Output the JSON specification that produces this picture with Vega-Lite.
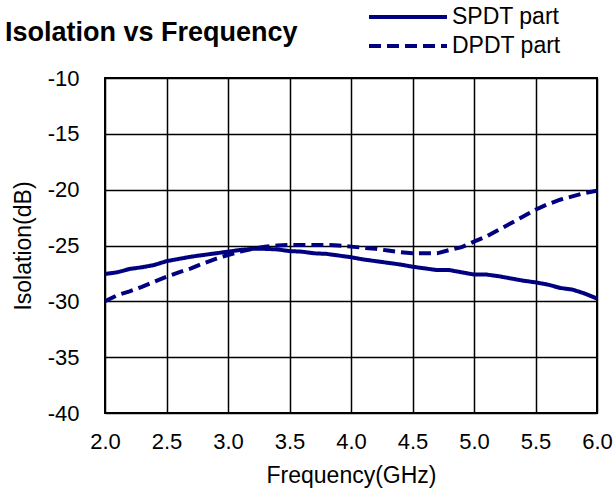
{
  "$schema": "https://vega.github.io/schema/vega-lite/v6.json",
  "autosize": {"type": "none"},
  "padding": {"left": 105, "top": 78, "right": 16, "bottom": 82},
  "width": 492,
  "height": 335,
  "background": "white",
  "title": {"text": "Isolation vs Frequency", "anchor": "start", "frame": "group", "dx": -100, "offset": -69, "baseline": "bottom", "fontSize": 27, "fontWeight": "bold", "font": "Liberation Sans", "color": "black"},
  "config": {
    "view": {"stroke": "black", "strokeWidth": 2},
    "font": "Liberation Sans",
    "axis": {"grid": true, "gridColor": "black", "gridWidth": 1.5, "gridOpacity": 1, "domain": false, "ticks": false, "labelFlush": false, "labelFont": "Liberation Sans", "labelFontSize": 22, "labelColor": "black", "titleFont": "Liberation Sans", "titleFontSize": 23, "titleFontWeight": "normal", "titleColor": "black"}
  },
  "data": {"values": [
    {"f": 2.0, "v": -27.55, "s": "SPDT part"}, {"f": 2.1, "v": -27.4, "s": "SPDT part"}, {"f": 2.2, "v": -27.1, "s": "SPDT part"}, {"f": 2.3, "v": -26.95, "s": "SPDT part"}, {"f": 2.4, "v": -26.75, "s": "SPDT part"}, {"f": 2.5, "v": -26.4, "s": "SPDT part"}, {"f": 2.6, "v": -26.2, "s": "SPDT part"}, {"f": 2.7, "v": -26.0, "s": "SPDT part"}, {"f": 2.8, "v": -25.85, "s": "SPDT part"}, {"f": 2.9, "v": -25.7, "s": "SPDT part"}, {"f": 3.0, "v": -25.55, "s": "SPDT part"}, {"f": 3.1, "v": -25.4, "s": "SPDT part"}, {"f": 3.2, "v": -25.3, "s": "SPDT part"}, {"f": 3.3, "v": -25.3, "s": "SPDT part"}, {"f": 3.4, "v": -25.35, "s": "SPDT part"}, {"f": 3.5, "v": -25.5, "s": "SPDT part"}, {"f": 3.6, "v": -25.55, "s": "SPDT part"}, {"f": 3.7, "v": -25.7, "s": "SPDT part"}, {"f": 3.8, "v": -25.75, "s": "SPDT part"}, {"f": 3.9, "v": -25.9, "s": "SPDT part"}, {"f": 4.0, "v": -26.05, "s": "SPDT part"}, {"f": 4.1, "v": -26.25, "s": "SPDT part"}, {"f": 4.2, "v": -26.4, "s": "SPDT part"}, {"f": 4.3, "v": -26.55, "s": "SPDT part"}, {"f": 4.4, "v": -26.7, "s": "SPDT part"}, {"f": 4.5, "v": -26.9, "s": "SPDT part"}, {"f": 4.6, "v": -27.05, "s": "SPDT part"}, {"f": 4.7, "v": -27.2, "s": "SPDT part"}, {"f": 4.8, "v": -27.2, "s": "SPDT part"}, {"f": 4.9, "v": -27.4, "s": "SPDT part"}, {"f": 5.0, "v": -27.6, "s": "SPDT part"}, {"f": 5.1, "v": -27.6, "s": "SPDT part"}, {"f": 5.2, "v": -27.75, "s": "SPDT part"}, {"f": 5.3, "v": -27.95, "s": "SPDT part"}, {"f": 5.4, "v": -28.15, "s": "SPDT part"}, {"f": 5.5, "v": -28.3, "s": "SPDT part"}, {"f": 5.6, "v": -28.5, "s": "SPDT part"}, {"f": 5.7, "v": -28.8, "s": "SPDT part"}, {"f": 5.8, "v": -28.95, "s": "SPDT part"}, {"f": 5.9, "v": -29.3, "s": "SPDT part"}, {"f": 6.0, "v": -29.75, "s": "SPDT part"},
    {"f": 2.0, "v": -30.0, "s": "DPDT part"}, {"f": 2.1, "v": -29.45, "s": "DPDT part"}, {"f": 2.2, "v": -29.1, "s": "DPDT part"}, {"f": 2.3, "v": -28.7, "s": "DPDT part"}, {"f": 2.4, "v": -28.25, "s": "DPDT part"}, {"f": 2.5, "v": -27.8, "s": "DPDT part"}, {"f": 2.6, "v": -27.4, "s": "DPDT part"}, {"f": 2.7, "v": -27.05, "s": "DPDT part"}, {"f": 2.8, "v": -26.6, "s": "DPDT part"}, {"f": 2.9, "v": -26.2, "s": "DPDT part"}, {"f": 3.0, "v": -25.85, "s": "DPDT part"}, {"f": 3.1, "v": -25.55, "s": "DPDT part"}, {"f": 3.2, "v": -25.3, "s": "DPDT part"}, {"f": 3.3, "v": -25.1, "s": "DPDT part"}, {"f": 3.4, "v": -25.0, "s": "DPDT part"}, {"f": 3.5, "v": -24.95, "s": "DPDT part"}, {"f": 3.6, "v": -24.95, "s": "DPDT part"}, {"f": 3.7, "v": -24.95, "s": "DPDT part"}, {"f": 3.8, "v": -24.95, "s": "DPDT part"}, {"f": 3.9, "v": -25.0, "s": "DPDT part"}, {"f": 4.0, "v": -25.1, "s": "DPDT part"}, {"f": 4.1, "v": -25.2, "s": "DPDT part"}, {"f": 4.2, "v": -25.3, "s": "DPDT part"}, {"f": 4.3, "v": -25.45, "s": "DPDT part"}, {"f": 4.4, "v": -25.6, "s": "DPDT part"}, {"f": 4.5, "v": -25.7, "s": "DPDT part"}, {"f": 4.6, "v": -25.7, "s": "DPDT part"}, {"f": 4.7, "v": -25.7, "s": "DPDT part"}, {"f": 4.8, "v": -25.4, "s": "DPDT part"}, {"f": 4.9, "v": -25.15, "s": "DPDT part"}, {"f": 5.0, "v": -24.65, "s": "DPDT part"}, {"f": 5.1, "v": -24.2, "s": "DPDT part"}, {"f": 5.2, "v": -23.6, "s": "DPDT part"}, {"f": 5.3, "v": -23.0, "s": "DPDT part"}, {"f": 5.4, "v": -22.4, "s": "DPDT part"}, {"f": 5.5, "v": -21.8, "s": "DPDT part"}, {"f": 5.6, "v": -21.3, "s": "DPDT part"}, {"f": 5.7, "v": -20.9, "s": "DPDT part"}, {"f": 5.8, "v": -20.6, "s": "DPDT part"}, {"f": 5.9, "v": -20.3, "s": "DPDT part"}, {"f": 6.0, "v": -20.1, "s": "DPDT part"}
  ]},
  "mark": {"type": "line", "color": "#000080", "strokeWidth": 4, "clip": true},
  "encoding": {
    "x": {"field": "f", "type": "quantitative", "title": "Frequency(GHz)", "scale": {"domain": [2, 6], "nice": false, "zero": false}, "axis": {"values": [2, 2.5, 3, 3.5, 4, 4.5, 5, 5.5, 6], "format": ".1f", "labelPadding": 18, "titlePadding": 12}},
    "y": {"field": "v", "type": "quantitative", "title": "Isolation(dB)", "scale": {"domain": [-40, -10], "nice": false, "zero": false}, "axis": {"values": [-40, -35, -30, -25, -20, -15, -10], "labelExpr": "'' + datum.value", "labelPadding": 26, "titlePadding": 12}},
    "strokeDash": {"field": "s", "type": "nominal", "scale": {"domain": ["SPDT part", "DPDT part"], "range": [[1, 0], [12, 6]]},
      "legend": {"orient": "none", "legendX": 291, "legendY": -73, "title": null, "symbolType": "M-4,0H4", "symbolSize": 380, "symbolStrokeWidth": 4, "symbolStrokeColor": "#000080", "symbolFillColor": "transparent", "labelFont": "Liberation Sans", "labelFontSize": 23, "labelColor": "black", "labelOffset": 32, "rowPadding": 5}}
  }
}
